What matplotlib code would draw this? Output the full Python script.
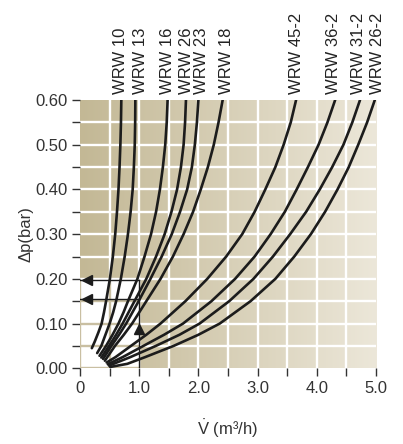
import numpy as np
import matplotlib
matplotlib.use("Agg")
import matplotlib.pyplot as plt
from matplotlib.colors import LinearSegmentedColormap
from matplotlib.patches import Rectangle

plt.rcParams["font.family"] = ["Liberation Sans", "DejaVu Sans"]
plt.rcParams["mathtext.fontset"] = "custom"
plt.rcParams["mathtext.rm"] = "Liberation Sans"

# Kennlinien: Volumenstrom (m3/h) und Druckverlust (bar)
names = ["WRW 10", "WRW 13", "WRW 16", "WRW 26", "WRW 23", "WRW 18",
         "WRW 45-2", "WRW 36-2", "WRW 31-2", "WRW 26-2"]

v_wrw10 = [0.20, 0.25, 0.31, 0.365, 0.405, 0.44, 0.505, 0.555, 0.595, 0.625, 0.65, 0.668, 0.682, 0.692, 0.698]
p_wrw10 = [0.045, 0.06, 0.08, 0.10, 0.125, 0.15, 0.20, 0.25, 0.30, 0.35, 0.40, 0.45, 0.50, 0.55, 0.60]

v_wrw13 = [0.29, 0.36, 0.43, 0.50, 0.56, 0.61, 0.69, 0.755, 0.81, 0.855, 0.89, 0.91, 0.925, 0.932, 0.935]
p_wrw13 = [0.034, 0.05, 0.075, 0.10, 0.125, 0.15, 0.20, 0.25, 0.30, 0.35, 0.40, 0.45, 0.50, 0.55, 0.60]

v_wrw16 = [0.33, 0.44, 0.55, 0.65, 0.735, 0.81, 0.97, 1.09, 1.20, 1.285, 1.35, 1.40, 1.44, 1.465, 1.48]
p_wrw16 = [0.028, 0.05, 0.075, 0.10, 0.125, 0.15, 0.20, 0.25, 0.30, 0.35, 0.40, 0.45, 0.50, 0.55, 0.60]

v_wrw26 = [0.36, 0.49, 0.61, 0.72, 0.92, 1.12, 1.285, 1.43, 1.545, 1.64, 1.705, 1.75, 1.775, 1.79]
p_wrw26 = [0.024, 0.05, 0.075, 0.10, 0.15, 0.20, 0.25, 0.30, 0.35, 0.40, 0.45, 0.50, 0.55, 0.60]

v_wrw23 = [0.39, 0.53, 0.66, 0.78, 0.99, 1.19, 1.38, 1.55, 1.69, 1.81, 1.89, 1.94, 1.975, 2.00]
p_wrw23 = [0.021, 0.05, 0.075, 0.10, 0.15, 0.20, 0.25, 0.30, 0.35, 0.40, 0.45, 0.50, 0.55, 0.60]

v_wrw18 = [0.42, 0.59, 0.74, 0.88, 1.12, 1.36, 1.57, 1.75, 1.91, 2.04, 2.16, 2.26, 2.34, 2.41]
p_wrw18 = [0.017, 0.05, 0.075, 0.10, 0.15, 0.20, 0.25, 0.30, 0.35, 0.40, 0.45, 0.50, 0.55, 0.60]

v_wrw45_2 = [0.45, 0.60, 0.86, 1.12, 1.36, 1.78, 2.15, 2.47, 2.74, 2.95, 3.13, 3.30, 3.44, 3.56, 3.65]
p_wrw45_2 = [0.013, 0.025, 0.05, 0.075, 0.10, 0.15, 0.20, 0.25, 0.30, 0.35, 0.40, 0.45, 0.50, 0.55, 0.60]

v_wrw36_2 = [0.47, 0.72, 1.07, 1.42, 1.74, 2.22, 2.62, 2.95, 3.22, 3.46, 3.66, 3.85, 4.03, 4.18, 4.31]
p_wrw36_2 = [0.009, 0.025, 0.05, 0.075, 0.10, 0.15, 0.20, 0.25, 0.30, 0.35, 0.40, 0.45, 0.50, 0.55, 0.60]

v_wrw31_2 = [0.49, 0.85, 1.28, 1.68, 2.02, 2.52, 2.93, 3.26, 3.55, 3.82, 4.05, 4.26, 4.45, 4.60, 4.73]
p_wrw31_2 = [0.006, 0.025, 0.05, 0.075, 0.10, 0.15, 0.20, 0.25, 0.30, 0.35, 0.40, 0.45, 0.50, 0.55, 0.60]

v_wrw26_2 = [0.51, 0.80, 1.10, 1.58, 2.00, 2.36, 2.88, 3.30, 3.62, 3.90, 4.14, 4.35, 4.54, 4.70, 4.85, 4.98]
p_wrw26_2 = [0.003, 0.01, 0.025, 0.05, 0.075, 0.10, 0.15, 0.20, 0.25, 0.30, 0.35, 0.40, 0.45, 0.50, 0.55, 0.60]

curves = [(v_wrw10, p_wrw10), (v_wrw13, p_wrw13), (v_wrw16, p_wrw16),
          (v_wrw26, p_wrw26), (v_wrw23, p_wrw23), (v_wrw18, p_wrw18),
          (v_wrw45_2, p_wrw45_2), (v_wrw36_2, p_wrw36_2),
          (v_wrw31_2, p_wrw31_2), (v_wrw26_2, p_wrw26_2)]

# Ablesebeispiel
example_v = 1.0
example_dp = [0.197, 0.156]

# Beschriftungspositionen
label_x = [0.69, 1.03, 1.48, 1.80, 2.06, 2.48, 3.66, 4.28, 4.70, 5.03]

tan = "#c9bfa2"
dark = "#333333"
black = "#1c1c1c"

fig = plt.figure(figsize=(4.03, 4.44), dpi=100)
ax = fig.add_axes([0.1985, 0.1705, 0.7345, 0.6043])

# Hintergrund mit Verlauf
cmap = LinearSegmentedColormap.from_list("bg", ["#c3b895", "#ece7d9"])
grad = np.linspace(0, 1, 256).reshape(1, -1)
ax.imshow(grad, extent=[0, 5, 0, 0.6], aspect="auto", cmap=cmap, zorder=0)

for x in np.arange(0.5, 5.0, 0.5):
    ax.axvline(x, color="white", lw=1.7, zorder=1)
for y in np.arange(0.05, 0.59, 0.05):
    ax.axhline(y, color="white", lw=1.7, zorder=1)

# weisses Feld unten links
ax.add_patch(Rectangle((0, 0), example_v, example_dp[0], color="white", zorder=1.5))
ax.hlines([0.0, 0.05, 0.10, 0.15], 0, example_v, color=tan, lw=1.7, zorder=1.6)
ax.vlines([0.0, 0.5], 0, example_dp[0], color=tan, lw=1.7, zorder=1.6)

# Kennlinien
for v, p in curves:
    ax.plot(v, p, color=black, lw=1.9, solid_capstyle="round",
            solid_joinstyle="round", zorder=3)

# Pfeile
ax.plot([example_v, example_v], [0, example_dp[0]], color=black, lw=1.0, zorder=2.5)
for y in example_dp:
    ax.plot([0, example_v], [y, y], color=black, lw=1.0, zorder=2.5)
    ax.plot(0.12, y, marker="<", ms=6.5, color=black, zorder=2.6)
ax.plot(example_v, 0.088, marker="^", ms=6.5, color=black, zorder=2.6)

for name, lx in zip(names, label_x):
    ax.annotate(name, (lx, 0.6), xytext=(0, 4), textcoords="offset points",
                rotation=90, ha="center", va="bottom", fontsize=12, color="#222222",
                annotation_clip=False)

ax.set_xlim(0, 5)
ax.set_ylim(0, 0.6)
ax.set_xticks([0, 1, 2, 3, 4, 5])
ax.set_xticklabels(["0", "1.0", "2.0", "3.0", "4.0", "5.0"])
ax.set_xticks(np.arange(0.5, 5, 1.0), minor=True)
ax.set_yticks(np.arange(0, 0.61, 0.1))
ax.set_yticklabels(["0.00", "0.10", "0.20", "0.30", "0.40", "0.50", "0.60"])
ax.set_yticks(np.arange(0.05, 0.6, 0.1), minor=True)
ax.tick_params(which="both", direction="out", length=6, width=1.0, color=dark,
               labelsize=12, labelcolor=dark, pad=3)
for s in ax.spines.values():
    s.set_visible(False)

ax.set_ylabel("Δp(bar)", fontsize=12, color=dark, labelpad=1)
ax.set_xlabel(r"$\dot{\mathrm{V}}$ (m³/h)", fontsize=12, color=dark, labelpad=16)

fig.savefig("out.png", dpi=100)
